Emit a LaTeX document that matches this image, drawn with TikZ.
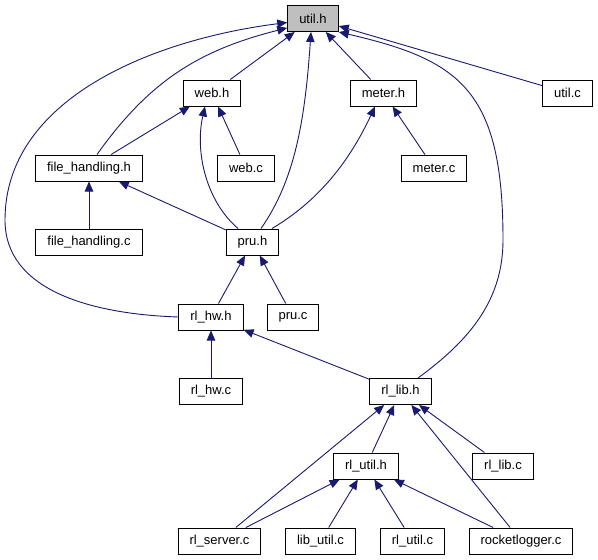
\documentclass[tikz,border=0pt]{standalone}
\usepackage{fontspec}
\setmainfont{Liberation Sans}
\usetikzlibrary{positioning,arrows.meta}
\definecolor{edgeblue}{HTML}{191970}
\tikzset{
  filebox/.style={draw=black, line width=1pt, fill=white, minimum height=26pt, inner xsep=11.5pt, inner ysep=0pt, font=\fontsize{13}{15}\selectfont},
  curbox/.style={filebox, fill=black!25},
  incarrow/.style={draw=edgeblue, line width=0.9pt, -{Triangle[length=10pt,width=8.5pt,fill=edgeblue]}}
}
\begin{document}
\begin{tikzpicture}[x=1pt, y=-1pt]
  \useasboundingbox (0,0) rectangle (598,560);
  \node[curbox] (util_h) at (313,18.5) {util.h};
  \node[filebox] (web_h) at (212,93) {web.h};
  \node[filebox] (meter_h) at (383.5,93) {meter.h};
  \node[filebox] (util_c) at (567.5,93) {util.c};
  \node[filebox] (fh_h) at (89,168) {file\_handling.h};
  \node[filebox] (web_c) at (246,168) {web.c};
  \node[filebox] (meter_c) at (434,168) {meter.c};
  \node[filebox] (fh_c) at (89,242) {file\_handling.c};
  \node[filebox] (pru_h) at (252.5,242) {pru.h};
  \node[filebox] (rlhw_h) at (211,317) {rl\_hw.h};
  \node[filebox] (pru_c) at (293,317) {pru.c};
  \node[filebox] (rlhw_c) at (211,391.5) {rl\_hw.c};
  \node[filebox] (rllib_h) at (400.5,391.5) {rl\_lib.h};
  \node[filebox] (rlutil_h) at (366,466) {rl\_util.h};
  \node[filebox] (rllib_c) at (503,466) {rl\_lib.c};
  \node[filebox] (rlserver_c) at (219.5,541) {rl\_server.c};
  \node[filebox] (libutil_c) at (320.5,541) {lib\_util.c};
  \node[filebox] (rlutil_c) at (412.5,541) {rl\_util.c};
  \node[filebox] (rocket_c) at (521,541) {rocketlogger.c};

  \draw[incarrow] (web_h) -- (util_h);
  \draw[incarrow] (meter_h) -- (util_h);
  \draw[incarrow] (util_c) -- (util_h);
  \draw[incarrow] ([xshift=8pt]fh_h.north) .. controls (150,80) and (200,50) .. (util_h.200);
  \draw[incarrow] ([xshift=8.5pt]pru_h.north) .. controls (295,180) and (305,120) .. ([xshift=-2pt]util_h.south);
  \draw[incarrow] (rlhw_h.west) .. controls (90,314) and (5,290) .. (5,220)
    .. controls (5,100) and (150,40) .. ([yshift=-4pt]util_h.west);
  \draw[incarrow] ([xshift=17.5pt]rllib_h.north) .. controls (470,340) and (503,300) .. (503,240)
    .. controls (503,90) and (460,60) .. (util_h.south east);
  \draw[incarrow] (fh_h) -- (web_h);
  \draw[incarrow] ([xshift=-14.5pt]pru_h.north) .. controls (205,200) and (195,150) .. ([xshift=-7pt]web_h.south);
  \draw[incarrow] (web_c) -- (web_h);
  \draw[incarrow] (pru_h) -- (fh_h);
  \draw[incarrow] (fh_c) -- (fh_h);
  \draw[incarrow] ([xshift=19.5pt]pru_h.north) .. controls (320,200) and (350,160) .. ([xshift=-8.5pt]meter_h.south);
  \draw[incarrow] (meter_c) -- (meter_h);
  \draw[incarrow] (rlhw_h) -- (pru_h);
  \draw[incarrow] (pru_c) -- (pru_h);
  \draw[incarrow] (rlhw_c) -- (rlhw_h);
  \draw[incarrow] (rllib_h) -- (rlhw_h);
  \draw[incarrow] (rlutil_h) -- (rllib_h);
  \draw[incarrow] (rllib_c) -- (rllib_h);
  \draw[incarrow] (rlserver_c) -- (rllib_h);
  \draw[incarrow] (rocket_c) -- (rllib_h);
  \draw[incarrow] (rlserver_c) -- (rlutil_h);
  \draw[incarrow] (libutil_c) -- (rlutil_h);
  \draw[incarrow] (rlutil_c) -- (rlutil_h);
  \draw[incarrow] (rocket_c) -- (rlutil_h);
\end{tikzpicture}
\end{document}
